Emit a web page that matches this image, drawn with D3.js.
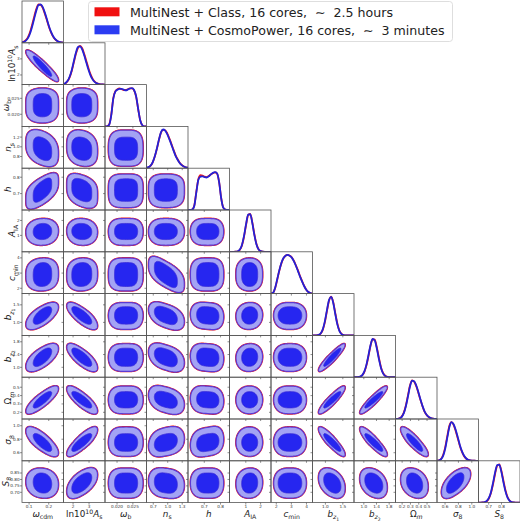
<!DOCTYPE html>
<html>
<head>
<meta charset="utf-8">
<script src="https://cdn.jsdelivr.net/npm/d3@7"></script>
<style>
  html, body { margin: 0; padding: 0; background: #fff; }
  #chart { width: 520px; height: 521px; }
  svg { display: block; }
</style>
</head>
<body>
<div id="chart"></div>
<script>
// ---- data ----
const paramKeys = ['omega_cdm', 'ln10As', 'omega_b', 'n_s', 'h', 'A_IA', 'c_min', 'b_z1', 'b_z2', 'Omega_m', 'sigma_8', 'S_8'];

// axis label pieces: [text, kind]
const axisLabels = [
    [['ω', 'i'], ['cdm', 'sub']],
    [['ln10', ''], ['10', 'sup'], ['A', 'i'], ['s', 'sub']],
    [['ω', 'i'], ['b', 'sub']],
    [['n', 'i'], ['s', 'sub']],
    [['h', 'i']],
    [['A', 'i'], ['IA', 'sub']],
    [['c', 'i'], ['min', 'sub']],
    [['b', 'i'], ['z', 'subi'], ['1', 'subsub']],
    [['b', 'i'], ['z', 'subi'], ['2', 'subsub']],
    [['Ω', ''], ['m', 'subi']],
    [['σ', 'i'], ['8', 'sub']],
    [['S', 'i'], ['8', 'sub']]
];

const paramRanges = [
    [0.064, 0.275], [1.4, 4.0], [0.0162, 0.0293], [0.56, 1.42], [0.6, 0.855], [-0.1, 2.7],
    [1.65, 4.4], [0.63, 1.82], [0.69, 2.0], [0.12, 0.62], [0.48, 1.1], [0.62, 0.945]
];

const xTickLabels = [
    ['0.1', '0.2'], ['2', '3'], ['0.020', '0.025'], ['0.7', '1.0', '1.3'], ['0.7', '0.8'], ['1', '2'],
    ['2', '3', '4'], ['1.0', '1.5'], ['1.0', '1.4', '1.8'], ['0.2', '0.3', '0.4', '0.5'], ['0.6', '0.8', '1.0'], ['0.7', '0.8']
];
const yTickLabels = [
    [], ['2', '3'], ['0.020', '0.025'], ['0.8', '1.0', '1.2'], ['0.7', '0.8'], ['1', '2'],
    ['2', '3', '4'], ['1.0', '1.5'], ['1.0', '1.4', '1.8'], ['0.2', '0.3', '0.4', '0.5'], ['0.6', '0.8', '1.0'], ['0.70', '0.75', '0.80', '0.85']
];

// 2D contour summaries: centre, 68% and 95% extents
const centres = [0.168, 2.544, 0.0229, 0.961, 0.722, 1.26, 2.90, 1.198, 1.315, 0.35, 0.752, 0.772];
const inner68 = [
    [0.121, 0.215], [1.92, 3.17], [0.0192, 0.0265], [0.723, 1.199], [0.653, 0.790], [0.72, 1.80],
    [2.12, 3.69], [0.951, 1.445], [1.031, 1.599], [0.2525, 0.4475], [0.621, 0.882], [0.694, 0.850]
];
const outer95 = [
    [0.084, 0.249], [1.61, 3.53], [0.0173, 0.0282], [0.603, 1.343], [0.615, 0.819], [0.34, 2.13],
    [1.83, 3.99], [0.803, 1.564], [0.873, 1.738], [0.183, 0.513], [0.547, 0.981], [0.655, 0.888]
];
// flat priors make boxy contours
const squareness = [2.2, 2.2, 3.6, 2.8, 3.4, 2.2, 2.8, 2.1, 2.1, 2.1, 2.1, 2.2];

// lower triangle correlations, row = y parameter
const correlations = [
    [],
    [-0.92],
    [0.0, 0.0],
    [-0.3, -0.15, 0.0],
    [0.55, -0.3, 0.0, 0.0],
    [0.05, -0.05, 0.0, 0.0, 0.0],
    [0.05, 0.05, 0.0, -0.6, 0.0, 0.0],
    [0.65, -0.75, 0.0, -0.45, -0.1, 0.05, 0.0],
    [0.65, -0.75, 0.0, -0.4, -0.1, 0.05, 0.0, 0.92],
    [0.82, -0.8, 0.0, -0.35, -0.1, 0.0, 0.0, 0.9, 0.92],
    [-0.75, 0.82, 0.0, 0.25, 0.2, 0.0, 0.0, -0.88, -0.88, -0.86],
    [-0.1, 0.55, 0.0, -0.15, 0.0, 0.05, 0.0, -0.35, -0.3, -0.25, 0.6]
];

// 1D marginals, 21 evenly spaced points across each range
const marginalsCosmoPower = [
    [0.009, 0.025, 0.062, 0.135, 0.26, 0.44, 0.65, 0.85, 0.98, 0.99, 0.92, 0.78, 0.61, 0.43, 0.28, 0.17, 0.093, 0.047, 0.022, 0.009, 0.003],
    [0.014, 0.04, 0.099, 0.21, 0.38, 0.61, 0.83, 0.97, 0.99, 0.91, 0.75, 0.57, 0.39, 0.24, 0.135, 0.069, 0.032, 0.013, 0.005, 0.002, 0],
    [0, 0, 0.04, 0.28, 0.72, 0.9, 0.95, 0.97, 0.97, 0.95, 0.93, 0.95, 0.98, 0.99, 0.94, 0.78, 0.45, 0.15, 0.03, 0, 0],
    [0.009, 0.027, 0.069, 0.158, 0.31, 0.51, 0.74, 0.93, 1.0, 0.97, 0.88, 0.75, 0.61, 0.46, 0.32, 0.22, 0.135, 0.08, 0.044, 0.023, 0.011],
    [0, 0, 0.01, 0.1, 0.45, 0.78, 0.86, 0.87, 0.85, 0.84, 0.87, 0.92, 0.96, 0.98, 0.95, 0.72, 0.3, 0.06, 0.01, 0, 0],
    [0, 0, 0, 0.002, 0.014, 0.057, 0.177, 0.41, 0.72, 0.96, 0.97, 0.74, 0.43, 0.19, 0.063, 0.016, 0.003, 0, 0, 0, 0],
    [0, 0.02, 0.15, 0.37, 0.6, 0.79, 0.92, 0.98, 1.0, 0.98, 0.93, 0.84, 0.72, 0.58, 0.44, 0.31, 0.19, 0.1, 0.04, 0.01, 0],
    [0, 0, 0.003, 0.015, 0.056, 0.164, 0.375, 0.667, 0.92, 0.995, 0.835, 0.546, 0.278, 0.11, 0.034, 0.008, 0.001, 0, 0, 0, 0],
    [0, 0, 0.004, 0.017, 0.055, 0.149, 0.325, 0.577, 0.84, 0.99, 0.95, 0.74, 0.47, 0.24, 0.1, 0.035, 0.01, 0.002, 0, 0, 0],
    [0.001, 0.004, 0.017, 0.056, 0.15, 0.33, 0.58, 0.845, 0.99, 0.975, 0.865, 0.7, 0.51, 0.34, 0.2, 0.11, 0.055, 0.024, 0.01, 0.004, 0.001],
    [0.002, 0.011, 0.044, 0.135, 0.325, 0.61, 0.88, 1.0, 0.945, 0.8, 0.61, 0.41, 0.25, 0.135, 0.066, 0.028, 0.011, 0.004, 0.001, 0, 0],
    [0, 0.0005, 0.003, 0.012, 0.042, 0.12, 0.27, 0.51, 0.78, 0.97, 0.98, 0.8, 0.53, 0.29, 0.127, 0.046, 0.013, 0.003, 0.001, 0, 0]
];
const marginalsClass = [
    [0.01, 0.03, 0.075, 0.16, 0.3, 0.49, 0.7, 0.89, 0.99, 0.98, 0.9, 0.75, 0.58, 0.41, 0.27, 0.16, 0.088, 0.044, 0.02, 0.008, 0.003],
    [0.012, 0.035, 0.09, 0.195, 0.36, 0.58, 0.8, 0.95, 1.0, 0.94, 0.79, 0.61, 0.43, 0.27, 0.155, 0.08, 0.038, 0.016, 0.006, 0.002, 0],
    [0, 0, 0.05, 0.3, 0.73, 0.91, 0.96, 0.98, 0.96, 0.94, 0.94, 0.96, 0.98, 0.98, 0.93, 0.77, 0.44, 0.15, 0.03, 0, 0],
    [0.009, 0.026, 0.066, 0.152, 0.3, 0.5, 0.73, 0.92, 0.99, 0.98, 0.9, 0.77, 0.63, 0.48, 0.34, 0.23, 0.14, 0.083, 0.045, 0.023, 0.011],
    [0, 0, 0.01, 0.11, 0.47, 0.8, 0.9, 0.89, 0.86, 0.85, 0.88, 0.92, 0.95, 0.97, 0.94, 0.72, 0.31, 0.06, 0.01, 0, 0],
    [0, 0, 0, 0.002, 0.013, 0.052, 0.165, 0.39, 0.7, 0.95, 0.98, 0.76, 0.45, 0.2, 0.067, 0.017, 0.003, 0, 0, 0, 0],
    [0, 0.02, 0.14, 0.36, 0.59, 0.78, 0.91, 0.98, 1.0, 0.98, 0.94, 0.85, 0.73, 0.6, 0.45, 0.32, 0.2, 0.1, 0.04, 0.01, 0],
    [0, 0, 0.003, 0.013, 0.05, 0.15, 0.35, 0.64, 0.9, 1.0, 0.86, 0.57, 0.3, 0.12, 0.038, 0.009, 0.001, 0, 0, 0, 0],
    [0, 0, 0.003, 0.015, 0.05, 0.138, 0.305, 0.55, 0.82, 0.98, 0.97, 0.77, 0.5, 0.26, 0.11, 0.038, 0.011, 0.002, 0, 0, 0],
    [0.001, 0.005, 0.02, 0.062, 0.165, 0.35, 0.61, 0.87, 1.0, 0.96, 0.85, 0.68, 0.5, 0.33, 0.19, 0.105, 0.052, 0.023, 0.009, 0.004, 0.001],
    [0.003, 0.014, 0.052, 0.155, 0.36, 0.65, 0.91, 1.0, 0.93, 0.77, 0.58, 0.39, 0.235, 0.125, 0.06, 0.025, 0.01, 0.004, 0.001, 0, 0],
    [0, 0.0004, 0.002, 0.01, 0.036, 0.105, 0.245, 0.47, 0.74, 0.95, 0.99, 0.83, 0.57, 0.32, 0.145, 0.053, 0.015, 0.004, 0.001, 0, 0]
];

const legendLabels = [
    'MultiNest + Class, 16 cores,  ∼  2.5 hours',
    'MultiNest + CosmoPower, 16 cores,  ∼  3 minutes'
];

class TrianglePlot {
    constructor() {
        // Defining state attributes
        const attrs = {
            id: "ID" + Math.floor(Math.random() * 1000000),
            svgWidth: 520,
            svgHeight: 521,
            marginTop: 1,
            marginLeft: 22,
            panelWidth: 41.5,
            panelHeight: 41.8,
            container: "#chart",
            defaultFont: "DejaVu Sans",
            labelSize: 8.8,
            tickSize: 4.2,
            frameColor: "#555",
            tickColor: "#444",
            textColor: "#222",
            redLine: "#f01818",
            blueLine: "#2222d8",
            blueOuter: "#a3a3f4",
            blueInner: "#2626f0",
            blueEdge: "#5c3ad4"
        };

        this.getState = () => attrs;
        this.setState = (d) => Object.assign(attrs, d);

        this.initializeEnterExitUpdatePattern();
    }

    render() {
        this.calculateProperties();
        this.drawSvgAndWrappers();
        this.drawPanels();
        this.drawAxisLabels();
        this.drawLegend();
        return this;
    }

    calculateProperties() {
        const { marginLeft, marginTop, panelWidth, panelHeight } = this.getState();
        const n = paramKeys.length;

        const colScale = d3.scaleBand().domain(d3.range(n)).range([marginLeft, marginLeft + n * panelWidth]);
        const rowScale = d3.scaleBand().domain(d3.range(n)).range([marginTop, marginTop + n * panelHeight]);

        const xScales = paramRanges.map(r => d3.scaleLinear().domain(r).range([0, panelWidth]));
        const yScales = paramRanges.map(r => d3.scaleLinear().domain(r).range([panelHeight, 0]));
        const densityScale = d3.scaleLinear().domain([0, 1.08]).range([panelHeight, 0]);

        const panels = [];
        for (let row = 0; row < n; row++) {
            for (let col = 0; col <= row; col++) {
                panels.push({ id: `p-${row}-${col}`, row, col, diag: row === col });
            }
        }

        this.setState({ n, colScale, rowScale, xScales, yScales, densityScale, panels });
    }

    drawSvgAndWrappers() {
        const { container, svgWidth, svgHeight, defaultFont } = this.getState();

        const svg = d3.select(container)._add('svg.svg-container')
            .attr("width", svgWidth)
            .attr("height", svgHeight)
            .attr("font-family", defaultFont);

        const defs = svg._add('defs.defs');
        const chart = svg._add('g.chart');

        this.setState({ svg, defs, chart });
    }

    contourRing(row, col, band) {
        // superellipse in whitened space, sheared by the correlation
        const rho = correlations[row][col];
        const s = Math.sqrt(1 - rho * rho);
        const cx = centres[col], cy = centres[row];
        const [xLo, xHi] = band[col];
        const [yLo, yHi] = band[row];
        const px = squareness[col], py = squareness[row];
        return d3.range(0, 2 * Math.PI, Math.PI / 90).map(t => {
            const c = Math.cos(t), sn = Math.sin(t);
            const u = Math.sign(c) * Math.pow(Math.abs(c), 2 / px);
            const v = Math.sign(sn) * Math.pow(Math.abs(sn), 2 / py);
            const V = rho * u + s * v;
            return [
                cx + u * (u < 0 ? cx - xLo : xHi - cx),
                cy + V * (V < 0 ? cy - yLo : yHi - cy)
            ];
        });
    }

    drawPanels() {
        const attrs = this.getState();
        const { chart, defs, panels, colScale, rowScale, xScales, yScales, densityScale,
            panelWidth, panelHeight, n, tickSize } = attrs;
        const self = this;

        defs._add('clipPath.panel-clip')
            .attr('id', 'panel-clip-' + attrs.id)
            ._add('rect.panel-clip-rect')
            .attr('width', panelWidth)
            .attr('height', panelHeight);

        const panelG = chart._add('g.panel', panels)
            .attr('transform', d => `translate(${colScale(d.col)},${rowScale(d.row)})`);

        const inner = panelG._add('g.panel-inner')
            .attr('clip-path', `url(#panel-clip-${attrs.id})`);

        inner.each(function (d) {
            const g = d3.select(this);
            const xs = xScales[d.col];
            if (d.diag) {
                const lo = paramRanges[d.col][0], hi = paramRanges[d.col][1];
                const step = (hi - lo) / (marginalsCosmoPower[d.col].length - 1);
                const line = d3.line()
                    .x((v, k) => xs(lo + k * step))
                    .y(v => densityScale(v))
                    .curve(d3.curveMonotoneX);
                g._add('path.marginal-class', [marginalsClass[d.col]])
                    .attr('d', line)
                    .attr('fill', 'none')
                    .attr('stroke', attrs.redLine)
                    .attr('stroke-width', 1.8);
                g._add('path.marginal-cosmopower', [marginalsCosmoPower[d.col]])
                    .attr('d', line)
                    .attr('fill', 'none')
                    .attr('stroke', attrs.blueLine)
                    .attr('stroke-width', 1.8);
            } else {
                const ys = yScales[d.row];
                const line = d3.line().x(p => xs(p[0])).y(p => ys(p[1])).curve(d3.curveLinearClosed);
                const outerRing = self.contourRing(d.row, d.col, outer95);
                const innerRing = self.contourRing(d.row, d.col, inner68);
                g._add('path.contour-class', [outerRing, innerRing])
                    .attr('d', line)
                    .attr('fill', 'none')
                    .attr('stroke', attrs.redLine)
                    .attr('stroke-width', 1.9);
                g._add('path.contour-outer', [outerRing])
                    .attr('d', line)
                    .attr('fill', attrs.blueOuter)
                    .attr('stroke', attrs.blueEdge)
                    .attr('stroke-width', 1.2);
                g._add('path.contour-inner', [innerRing])
                    .attr('d', line)
                    .attr('fill', attrs.blueInner)
                    .attr('stroke', '#3a2cd8')
                    .attr('stroke-width', 0.8);
            }
        });

        // frames
        panelG._add('rect.frame')
            .attr('width', panelWidth)
            .attr('height', panelHeight)
            .attr('fill', 'none')
            .attr('stroke', attrs.frameColor)
            .attr('stroke-width', 0.8);

        // ticks
        panelG.each(function (d) {
            const g = d3.select(this);
            const xs = xScales[d.col];
            const xt = xTickLabels[d.col].map(t => ({ label: t, value: +t }));
            g._add('line.x-tick', xt)
                .attr('x1', t => xs(t.value)).attr('x2', t => xs(t.value))
                .attr('y1', panelHeight).attr('y2', panelHeight + 2)
                .attr('stroke', attrs.tickColor).attr('stroke-width', 0.6);
            if (d.row === n - 1) {
                g._add('text.x-tick-label', xt)
                    .attr('x', t => xs(t.value))
                    .attr('y', panelHeight + 5.3)
                    .attr('text-anchor', 'middle')
                    .attr('font-size', tickSize)
                    .attr('fill', '#333')
                    .text(t => t.label);
            }
            if (!d.diag) {
                const ys = yScales[d.row];
                const yt = yTickLabels[d.row].map(t => ({ label: t, value: +t }));
                g._add('line.y-tick', yt)
                    .attr('y1', t => ys(t.value)).attr('y2', t => ys(t.value))
                    .attr('x1', 0).attr('x2', -2)
                    .attr('stroke', attrs.tickColor).attr('stroke-width', 0.6);
                if (d.col === 0) {
                    g._add('text.y-tick-label', yt)
                        .attr('x', -2.4)
                        .attr('y', t => ys(t.value))
                        .attr('dy', '0.35em')
                        .attr('text-anchor', 'end')
                        .attr('font-size', tickSize)
                        .attr('fill', '#333')
                        .text(t => t.label);
                }
            }
        });
    }

    writeLabel(text, pieces, size) {
        const shifts = { '': 0, i: 0, sub: 0.25, subi: 0.25, sup: -0.33, subsub: 0.42 };
        const scales = { '': 1, i: 1, sub: 0.7, subi: 0.7, sup: 0.7, subsub: 0.52 };
        let current = 0;
        pieces.forEach(([t, kind]) => {
            const target = shifts[kind] * size;
            text.append('tspan')
                .attr('dy', target - current)
                .attr('font-size', scales[kind] * size)
                .attr('font-style', (kind === 'i' || kind === 'subi') ? 'italic' : 'normal')
                .text(t);
            current = target;
        });
    }

    drawAxisLabels() {
        const { chart, colScale, rowScale, panelWidth, panelHeight, n, textColor, labelSize, marginLeft } = this.getState();
        const self = this;

        const xLabels = chart._add('text.x-axis-label', d3.range(n))
            .attr('x', i => colScale(i) + panelWidth / 2)
            .attr('y', rowScale(n - 1) + panelHeight + 14.4)
            .attr('text-anchor', 'middle')
            .attr('fill', textColor);
        xLabels.each(function (i) {
            const t = d3.select(this);
            t.selectAll('tspan').remove();
            self.writeLabel(t, axisLabels[i], labelSize);
        });

        // each y label sits just left of its own tick labels
        const tickLeft = d3.range(n).map(i => {
            const nodes = chart.selectAll('g.panel')
                .filter(d => d.col === 0 && d.row === i)
                .selectAll('text.y-tick-label').nodes();
            if (!nodes.length) return marginLeft - 4;
            return marginLeft + d3.min(nodes, nd => nd.getBBox().x);
        });

        const yLabels = chart._add('text.y-axis-label', d3.range(1, n))
            .attr('transform', i => `translate(${Math.max(tickLeft[i] - 1.6, 8.6)},${rowScale(i) + panelHeight / 2}) rotate(-90)`)
            .attr('text-anchor', 'middle')
            .attr('fill', textColor);
        yLabels.each(function (i) {
            const t = d3.select(this);
            t.selectAll('tspan').remove();
            self.writeLabel(t, axisLabels[i], labelSize);
        });
    }

    drawLegend() {
        const { chart, textColor } = this.getState();
        const legendColors = ['#f01010', '#2b3cf2'];

        const legend = chart._add('g.legend').attr('transform', 'translate(88.5,1.5)');
        legend._add('rect.legend-box')
            .attr('width', 364)
            .attr('height', 40)
            .attr('rx', 3)
            .attr('fill', '#fff')
            .attr('fill-opacity', 0.85)
            .attr('stroke', '#d6d6d6')
            .attr('stroke-width', 0.8);

        const items = legend._add('g.legend-item', legendLabels.map((label, i) => ({ label, i })))
            .attr('transform', d => `translate(0,${d.i * 18})`);
        items._add('rect.legend-patch')
            .attr('x', 6).attr('y', 5.8)
            .attr('width', 25).attr('height', 9)
            .attr('fill', d => legendColors[d.i]);
        items._add('text.legend-text')
            .attr('x', 41.5)
            .attr('y', 15)
            .attr('font-size', 12.6)
            .attr('fill', textColor)
            .style('white-space', 'pre')
            .text(d => d.label);
    }

    initializeEnterExitUpdatePattern() {
        d3.selection.prototype._add = function (classSelector, data) {
            const container = this;
            const split = classSelector.split(".");
            const elementTag = split[0];
            const className = split[1] || 'not-good';

            let bindData = data;
            if (typeof data === 'function') {
                bindData = data(container.datum());
            }
            if (bindData && !Array.isArray(bindData)) {
                bindData = [bindData];
            }
            if (!bindData) {
                if (container.datum()) {
                    bindData = d => [d];
                } else {
                    bindData = [className];
                }
            }

            let selection = container.selectAll(elementTag + '.' + className).data(bindData, (d, i) => {
                if (typeof d === "object" && d && d.id) return d.id;
                return i;
            });
            selection.exit().remove();
            selection = selection.enter().append(elementTag).merge(selection);
            selection.attr("class", className);
            return selection;
        };
    }
}

new TrianglePlot().render();
</script>
</body>
</html>
